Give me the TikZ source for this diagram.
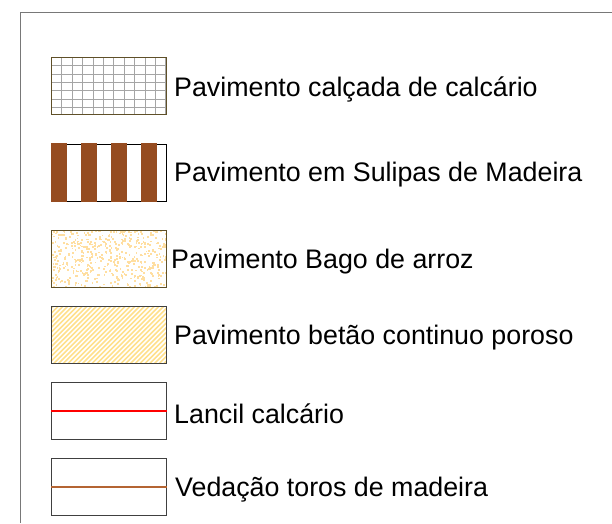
\documentclass[tikz,border=0pt]{standalone}
\usepackage{fontspec}
\setmainfont{Liberation Sans}
\definecolor{framegray}{RGB}{120,120,120}
\definecolor{olive}{RGB}{95,80,40}
\definecolor{stripebrown}{RGB}{150,76,32}
\definecolor{speck}{RGB}{255,222,160}
\definecolor{hatchyellow}{RGB}{255,224,140}
\definecolor{woodline}{RGB}{180,100,50}
\definecolor{gridgray}{RGB}{165,165,165}
\tikzset{
  legbox/.style={draw=black, line width=1pt, minimum width=114.5pt, minimum height=57pt, inner sep=0pt},
  legtext/.style={anchor=base west, inner sep=0pt, font=\fontsize{26.8}{30}\selectfont},
}
\begin{document}
\begin{tikzpicture}[x=1pt,y=-1pt]
\useasboundingbox (0,0) rectangle (612,523);
% outer frame
\coordinate (fbl) at (20.5,523);
\coordinate (ftl) at (20.5,12.5);
\coordinate (ftr) at (612,12.5);
\draw[framegray, line width=1.5pt] (fbl) -- (ftl) -- (ftr);

% box 1 : grid
\begin{scope}
  \clip (51.5,57.75) rectangle (166,114.75);
  \foreach \k in {1,...,11} \draw[gridgray, line width=1pt] (51.5+\k*10.4,57) -- (51.5+\k*10.4,116);
  \foreach \k in {1,...,6} \draw[gridgray, line width=1pt] (51,57.5+\k*8.3) -- (167,57.5+\k*8.3);
\end{scope}
\node[legbox, draw=olive] (b1) at (108.75,86.25) {};

% box 2 : stripes
\node[legbox] (b2) at (108.75,172.5) {};
\foreach \s in {51,81,111,141} \fill[stripebrown] (\s,143) rectangle (\s+16,202);

% box 3 : speckles
\pgfmathsetseed{11}
\begin{scope}
  \clip (51.5,230) rectangle (166,287);
  \foreach \i in {1,...,520}{
    \pgfmathsetmacro\rx{51.5+114.5*rnd}
    \pgfmathsetmacro\ry{230+57*rnd}
    \fill[speck] (\rx,\ry) rectangle ++(1.8,1.8);
  }
\end{scope}
\node[legbox, draw=olive] (b3) at (108.75,258.5) {};

% box 4 : diagonal hatch
\begin{scope}
  \clip (51.5,306) rectangle (166,363);
  \foreach \k in {0,...,40} \draw[hatchyellow, line width=1.6pt] (-20+\k*4.8,370) -- (-20+\k*4.8+70,300);
\end{scope}
\node[legbox, draw=black!75] (b4) at (108.75,334.5) {};

% box 5 : red line
\node[legbox, draw=black!75] (b5) at (108.75,410.5) {};
\draw[red, line width=2pt] (b5.west) -- (b5.east);

% box 6 : wood line
\node[legbox, draw=black!75] (b6) at (108.75,486.5) {};
\draw[woodline, line width=2pt] (b6.west) -- (b6.east);

% labels
\node[legtext] (t1) at (174,96.7) {Pavimento calçada de calcário};
\node[legtext] (t2) at (174,181.7) {Pavimento em Sulipas de Madeira};
\node[legtext] (t3) at (171,268) {Pavimento Bago de arroz};
\node[legtext] (t4) at (174,344.5) {Pavimento betão continuo poroso};
\node[legtext] (t5) at (174,423) {Lancil calcário};
\node[legtext] (t6) at (175,496.7) {Vedação toros de madeira};
\end{tikzpicture}
\end{document}
